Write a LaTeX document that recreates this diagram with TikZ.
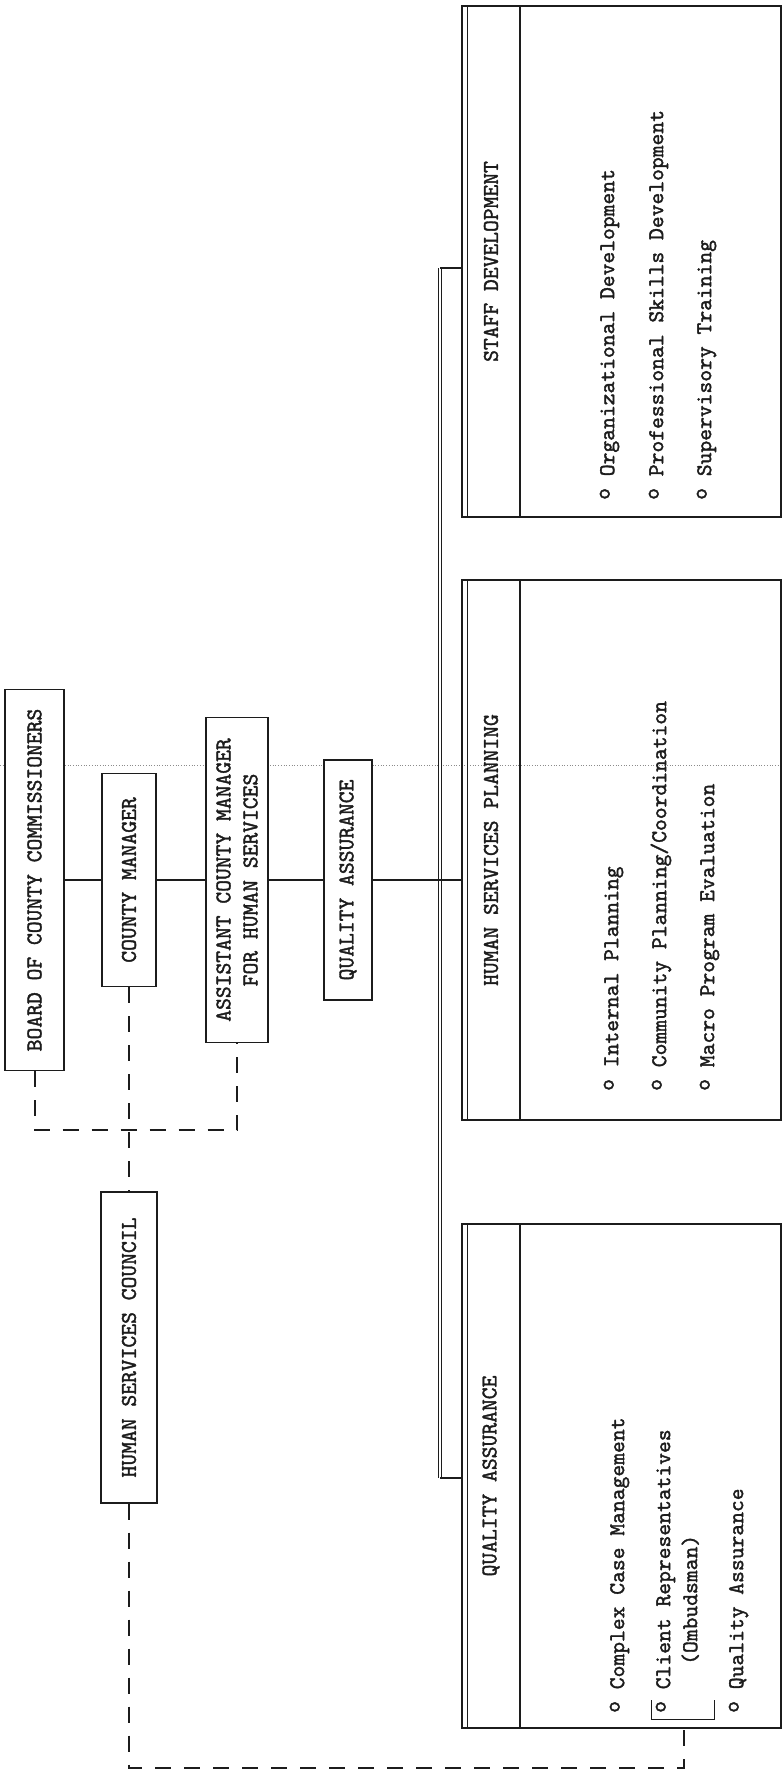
\documentclass[tikz,border=0pt]{standalone}
\usepackage{fontspec}
\setmonofont[FakeBold=1.6]{lmmono10-regular.otf}
\usetikzlibrary{calc}
\definecolor{Ink}{HTML}{1C1C1C}
\definecolor{Fold}{HTML}{8C8C8C}
\newcommand{\orgfont}{\ttfamily\fontsize{22.5}{27}\selectfont}
\newcommand{\bul}{\raisebox{0.2em}{o}}
\tikzset{
    unitbox/.style={rectangle, draw=Ink, line width=1.3pt, fill=white, rotate=90, inner sep=0pt, align=center, text=Ink, font=\orgfont},
    headbox/.style={unitbox, fill=none, line width=1.6pt},
    bodybox/.style={rectangle, draw=Ink, line width=1.3pt, rotate=90, inner sep=0pt},
    itemtext/.style={rotate=90, anchor=mid west, inner sep=0pt, text=Ink, font=\orgfont},
    link/.style={draw=Ink, line width=1.2pt},
    dashlink/.style={draw=Ink, line width=2pt, dash pattern=on 16pt off 13pt},
    busline/.style={draw=Ink, double, double distance=1.6pt, line width=0.9pt},
    foldline/.style={draw=Fold, line width=0.7pt, dotted},
}

\begin{document}
\begin{tikzpicture}[x=1pt, y=-1pt]
    \useasboundingbox (0,0) rectangle (783,1775);
    % fold of the sheet
    \draw[foldline] (0,765) -- (783,765);

    % line of command
    \node[unitbox, minimum width=381pt, minimum height=59pt] (board) at (34.5,880) {BOARD OF COUNTY COMMISSIONERS};
    \node[unitbox, minimum width=213pt, minimum height=54pt] (cm) at (129,880) {COUNTY MANAGER};
    \node[unitbox, minimum width=325pt, minimum height=62pt] (acm) at (237,880) {ASSISTANT COUNTY MANAGER\\FOR HUMAN SERVICES};
    \node[unitbox, minimum width=240pt, minimum height=48pt] (qa) at (348,880) {QUALITY ASSURANCE};
    \node[unitbox, minimum width=311pt, minimum height=56pt] (hsc) at (129,1347.5) {HUMAN SERVICES COUNCIL};

    \draw[link] (board.south) -- (cm.north);
    \draw[link] (cm.south) -- (acm.north);
    \draw[link] (acm.south) -- (qa.north);

    % Staff Development
    \node[bodybox, minimum width=511pt, minimum height=319pt] (sd) at (621.5,261.5) {};
    \node[headbox, minimum width=511pt, minimum height=58pt] (sdhead) at (491,261.5) {STAFF DEVELOPMENT};
    \draw[link] ([xshift=6pt]sdhead.north west) -- ([xshift=6pt]sdhead.north east);
    \node[itemtext] (sd1) at (612,500) {\bul{} Organizational Development};
    \node[itemtext] (sd2) at (661,500) {\bul{} Professional Skills Development};
    \node[itemtext] (sd3) at (709,500) {\bul{} Supervisory Training};

    % Human Services Planning
    \node[bodybox, minimum width=540pt, minimum height=319pt] (hsp) at (621.5,850) {};
    \node[headbox, minimum width=540pt, minimum height=58pt] (hsphead) at (491,850) {HUMAN SERVICES PLANNING};
    \draw[link] ([xshift=6pt]hsphead.north west) -- ([xshift=6pt]hsphead.north east);
    \node[itemtext] (hsp1) at (616,1091) {\bul{} Internal Planning};
    \node[itemtext] (hsp2) at (664,1091) {\bul{} Community Planning/Coordination};
    \node[itemtext] (hsp3) at (712,1091) {\bul{} Macro Program Evaluation};

    % Quality Assurance
    \node[bodybox, minimum width=504pt, minimum height=319pt] (qab) at (621.5,1476) {};
    \node[headbox, minimum width=504pt, minimum height=58pt] (qahead) at (491,1476) {QUALITY ASSURANCE};
    \draw[link] ([xshift=6pt]qahead.north west) -- ([xshift=6pt]qahead.north east);
    \node[itemtext] (qa1) at (622,1713) {\bul{} Complex Case Management};
    \node[itemtext] (qa2) at (668,1713) {\bul{} Client Representatives};
    \node[itemtext] (qa2b) at (695,1665) {(Ombudsman)};
    \node[itemtext] (qa3) at (741,1713) {\bul{} Quality Assurance};

    % bus to the three units
    \coordinate (bustop) at (440,268);
    \coordinate (busend) at (440,1478);
    \draw[busline] (bustop) -- (busend);
    \draw[link] (bustop) -- (bustop -| sdhead.north);
    \draw[link] (busend) -- (busend -| qahead.north);
    \draw[link] (qa.south) -- (qa.south -| hsphead.north);

    % advisory lines
    \coordinate (brk) at (684,1719);
    \draw[link, line width=1pt] (651,1700) |- (brk) -| (714,1700);
    \draw[dashlink] (board.west) -- ++(0,59) -| (acm.west);
    \draw[dashlink] (cm.west) -- (hsc.east);
    \draw[dashlink] (hsc.west) -- ++(0,264) -| (brk);
\end{tikzpicture}
\end{document}
